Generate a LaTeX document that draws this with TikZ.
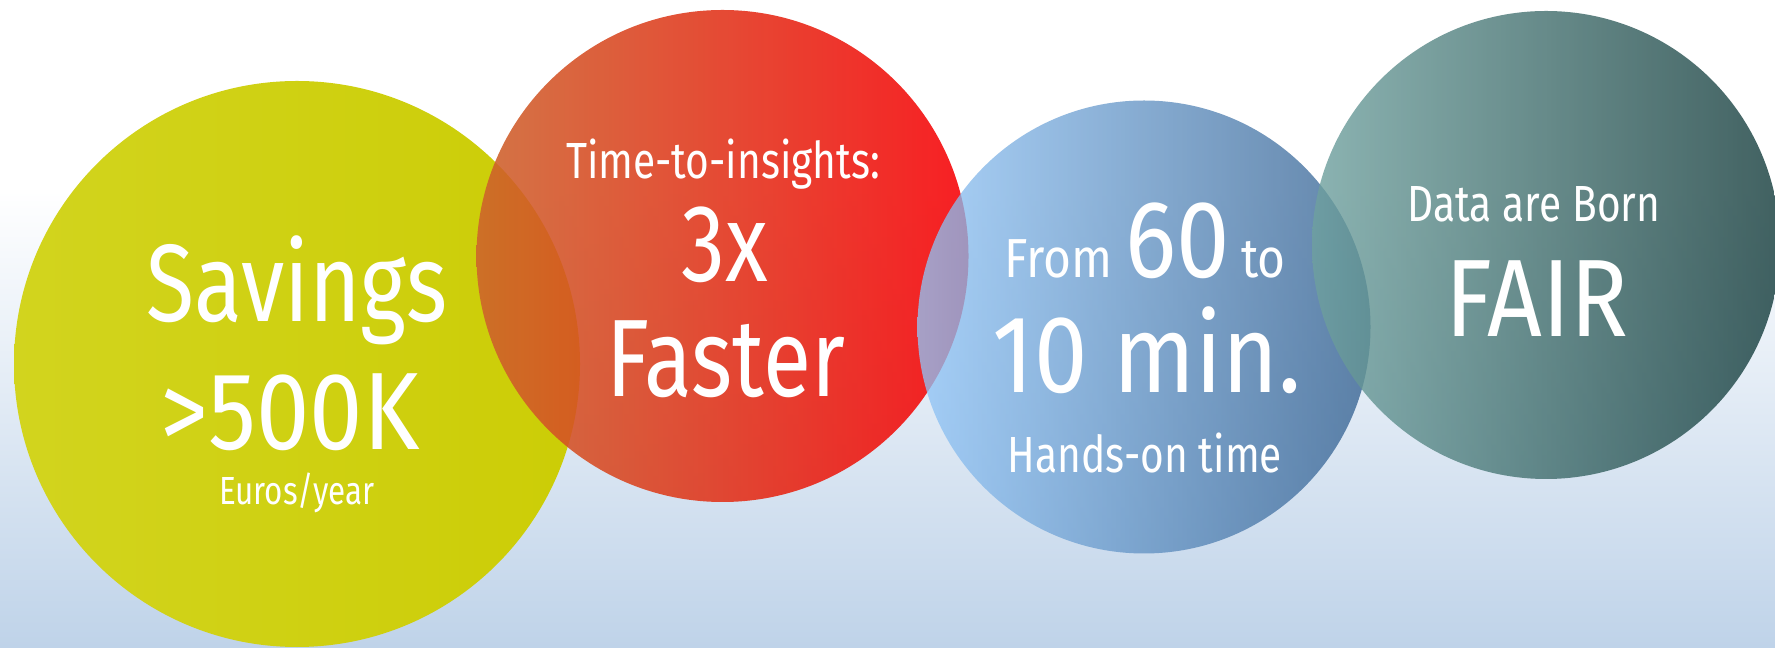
\documentclass[tikz,border=0pt]{standalone}
\usepackage{fontspec}
\setmainfont{Fira Sans}[FakeStretch=0.8]
\newfontfamily\widefont{Fira Sans}[FakeStretch=0.87]
\definecolor{bgblue}{RGB}{191,211,233}
\definecolor{yelL}{RGB}{210,212,30}
\definecolor{yelR}{RGB}{204,205,6}
\definecolor{redL}{RGB}{205,99,44}
\definecolor{redR}{RGB}{247,0,5}
\definecolor{bluL}{RGB}{145,197,247}
\definecolor{bluR}{RGB}{50,95,143}
\definecolor{tealL}{RGB}{111,161,159}
\definecolor{tealR}{RGB}{18,58,58}
\begin{document}
\begin{tikzpicture}[x=0.5pt,y=0.5pt,
  lbl/.style={anchor=base,inner sep=0pt,text=white},
  big/.style={lbl,font=\fontsize{55}{55}\selectfont},
  bigw/.style={lbl,font=\widefont\fontsize{55}{55}\selectfont},
  small/.style={lbl,font=\fontsize{25.4}{26}\selectfont},
  disc/.style={draw=none}]
\useasboundingbox (0,0) rectangle (1775,647);
\fill[white] (0,0) rectangle (1775,647);
\shade[top color=white,bottom color=bgblue,draw=none] (0,0) rectangle (1775,457);
% circles
\shade[disc,left color=yelL,right color=yelR] (297,283) circle[radius=141.5pt];
\shade[disc,left color=redL,right color=redR,fill opacity=0.88] (722.5,391) circle[radius=123pt];
\shade[disc,left color=bluL,right color=bluR,fill opacity=0.77] (1144,320) circle[radius=113.25pt];
\shade[disc,left color=tealL,right color=tealR,fill opacity=0.8] (1546,402) circle[radius=117pt];
% texts
\node[big] (sav) at (297,325) {Savings};
\node[bigw] (k500) at (290,197) {>500K};
\node[lbl,font=\fontsize{19.6}{20}\selectfont] (euro) at (297,142) {Euros/year};
\node[small] (tti) at (723,468) {Time-to-insights:};
\node[big] (three) at (725,365) {3x};
\node[big] (fast) at (726,250) {Faster};
\node[bigw] (from) at (1145,369) {{\fontsize{27.5}{28}\selectfont From}\hspace{7pt}60\hspace{5.5pt}{\fontsize{27.5}{28}\selectfont to}};
\node[bigw] (ten) at (1147,254) {10 min.};
\node[small] (hands) at (1145,174) {Hands-on time};
\node[small] (born) at (1534,425) {Data are Born};
\node[bigw] (fair) at (1537,310) {FAIR};
\end{tikzpicture}
\end{document}
